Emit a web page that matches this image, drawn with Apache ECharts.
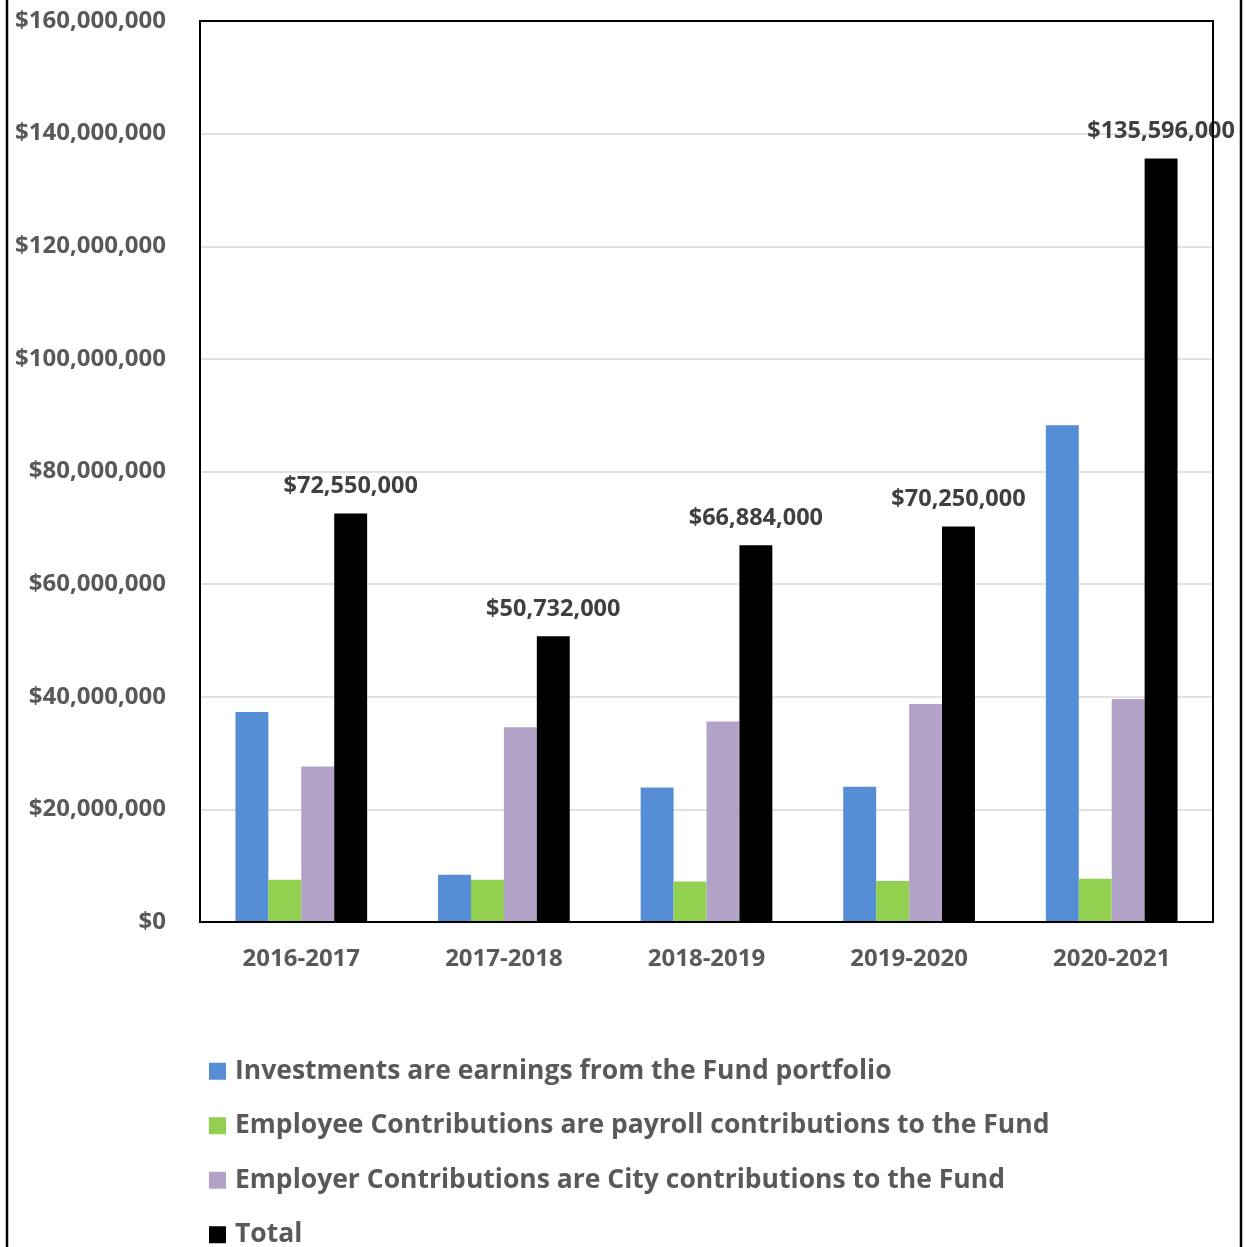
<!DOCTYPE html>
<html>
<head>
<meta charset="utf-8">
<script src="https://cdn.jsdelivr.net/npm/echarts@6/dist/echarts.min.js"></script>
<style>
html,body{margin:0;padding:0;background:#fff;}
#chart{width:1247px;height:1247px;}
</style>
</head>
<body>
<div id="chart"></div>
<script>
const categories = ['2016-2017','2017-2018','2018-2019','2019-2020','2020-2021'];
const seriesNames = [
  'Investments are earnings from the Fund portfolio',
  'Employee Contributions are payroll contributions to the Fund',
  'Employer Contributions are City contributions to the Fund',
  'Total'
];
const investments = [37300000, 8400000, 23900000, 24000000, 88200000];
const employee = [7500000, 7500000, 7200000, 7300000, 7700000];
const employer = [27600000, 34600000, 35600000, 38700000, 39600000];
const total = [72550000, 50732000, 66884000, 70250000, 135596000];
const colors = ['#558ed5', '#92d050', '#b3a2c7', '#000000'];

const FONT = '"Open Sans", Lato, sans-serif';
function money(v){ return '$' + Math.round(v).toLocaleString('en-US'); }

const chart = echarts.init(document.getElementById('chart'));
const values = [investments, employee, employer, total];
const series = values.map((d, i) => ({
  name: seriesNames[i],
  type: 'bar',
  data: d,
  barGap: '0%',
  barCategoryGap: '35%',
  itemStyle: { color: colors[i] },
  label: i === 3 ? {
    show: true, position: 'top', distance: 15,
    formatter: p => money(p.value),
    fontFamily: FONT, fontWeight: 'bold', fontSize: 23.5, color: '#404040'
  } : { show: false },
  emphasis: { disabled: true }
}));

chart.setOption({
  animation: false,
  backgroundColor: '#fff',
  grid: { left: 200, right: 34, top: 21, bottom: 325, containLabel: false },
  legend: {
    orient: 'vertical', left: 204, top: 1049, height: 260,
    itemWidth: 17, itemHeight: 17, itemGap: 20,
    icon: 'rect',
    textStyle: { fontFamily: FONT, fontWeight: 'bold', fontSize: 26.5, lineHeight: 34.5, color: '#595959', padding: [0, 0, 0, 4] },
    data: seriesNames
  },
  xAxis: {
    type: 'category', data: categories,
    axisLine: { show: true, lineStyle: { color: '#d9d9d9', width: 2 } },
    axisTick: { show: false },
    axisLabel: { fontFamily: FONT, fontWeight: 'bold', fontSize: 24, color: '#595959', margin: 25 }
  },
  yAxis: {
    type: 'value', min: 0, max: 160000000, interval: 20000000,
    axisLine: { show: false }, axisTick: { show: false },
    splitLine: { lineStyle: { color: '#d9d9d9', width: 1.5 } },
    axisLabel: { formatter: v => money(v), fontFamily: FONT, fontWeight: 'bold', fontSize: 24, color: '#595959', margin: 34 }
  },
  graphic: [
    { type: 'rect', shape: { x: 200, y: 21, width: 1013, height: 901 }, style: { fill: 'none', stroke: '#000', lineWidth: 2 }, z: 100, silent: true },
    { type: 'rect', shape: { x: 7, y: -20, width: 1234, height: 1290 }, style: { fill: 'none', stroke: '#000', lineWidth: 2.5 }, z: 100, silent: true }
  ],
  series: series
});
</script>
</body>
</html>
